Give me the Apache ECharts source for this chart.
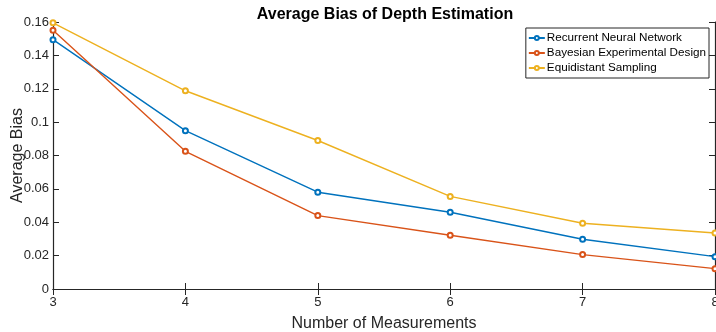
<!DOCTYPE html>
<html>
<head>
<meta charset="utf-8">
<script src="https://cdn.jsdelivr.net/npm/echarts@6/dist/echarts.min.js"></script>
<style>html,body{margin:0;padding:0;background:#fff}#c{width:716px;height:332px}</style>
</head>
<body>
<div id="c"></div>
<script>
var measurements = [3, 4, 5, 6, 7, 8];
var rnn = [0.1494, 0.0949, 0.0580, 0.0460, 0.0298, 0.0194];
var bed = [0.1550, 0.0825, 0.0440, 0.0322, 0.0206, 0.0122];
var equi = [0.1595, 0.1188, 0.0890, 0.0555, 0.0394, 0.0336];
var seriesNames = ['Recurrent Neural Network', 'Bayesian Experimental Design', 'Equidistant Sampling'];
var colors = ['#0072BD', '#D95319', '#EDB120'];

function pts(vals) { return measurements.map(function (m, i) { return [m, vals[i]]; }); }
var font = 'Liberation Sans, Arial, sans-serif';
var axisLine = { show: true, lineStyle: { color: '#262626', width: 1.2 } };
var chart = echarts.init(document.getElementById('c'));
var data = [rnn, bed, equi];
chart.setOption({
  animation: false,
  title: { text: 'Average Bias of Depth Estimation', left: 380, textAlign: 'center', top: 2,
    textStyle: { fontFamily: font, fontSize: 16, fontWeight: 'bold', color: '#000' } },
  legend: {
    right: 7, top: 28, orient: 'vertical', itemGap: 3, itemWidth: 16, itemHeight: 5,
    backgroundColor: '#fff', borderColor: '#262626', borderWidth: 1, padding: [4, 3, 4, 2],
    textStyle: { fontFamily: font, fontSize: 11.7, color: '#000', padding: [0, 0, 0, -3] },
    data: seriesNames
  },
  grid: { left: 53, right: 1, top: 22, bottom: 43, outerBoundsMode: 'none' },
  xAxis: [{
    type: 'value', min: 3, max: 8, interval: 1,
    name: 'Number of Measurements', nameLocation: 'middle', nameGap: 27, nameMoveOverlap: false,
    nameTextStyle: { fontFamily: font, fontSize: 16, color: '#262626' },
    axisLine: axisLine, axisTick: { inside: true, length: 6, lineStyle: { color: '#262626' } },
    axisLabel: { fontFamily: font, fontSize: 13, color: '#262626', margin: 7 },
    splitLine: { show: false }
  }, {
    type: 'value', min: 3, max: 8, interval: 1, position: 'top',
    axisLine: axisLine, axisTick: { inside: true, length: 6, lineStyle: { color: '#262626' } },
    axisLabel: { show: false }, splitLine: { show: false }
  }],
  yAxis: [{
    type: 'value', min: 0, max: 0.16, interval: 0.02,
    name: 'Average Bias', nameLocation: 'middle', nameGap: 27, nameMoveOverlap: false,
    nameTextStyle: { fontFamily: font, fontSize: 16, color: '#262626' },
    axisLine: axisLine, axisTick: { inside: true, length: 6, lineStyle: { color: '#262626' } },
    axisLabel: { fontFamily: font, fontSize: 13, color: '#262626', margin: 4 },
    splitLine: { show: false }
  }, {
    type: 'value', min: 0, max: 0.16, interval: 0.02, position: 'right',
    axisLine: axisLine, axisTick: { inside: true, length: 6, lineStyle: { color: '#262626' } },
    axisLabel: { show: false }, splitLine: { show: false }
  }],
  series: data.map(function (d, i) {
    return {
      name: seriesNames[i], type: 'line', data: pts(d),
      color: colors[i],
      symbol: 'emptyCircle', symbolSize: 5, showAllSymbol: true,
      lineStyle: { width: 1.4, color: colors[i] },
      itemStyle: { color: colors[i], borderColor: colors[i], borderWidth: 1.3 },
      z: 3 + i
    };
  })
});
</script>
</body>
</html>
